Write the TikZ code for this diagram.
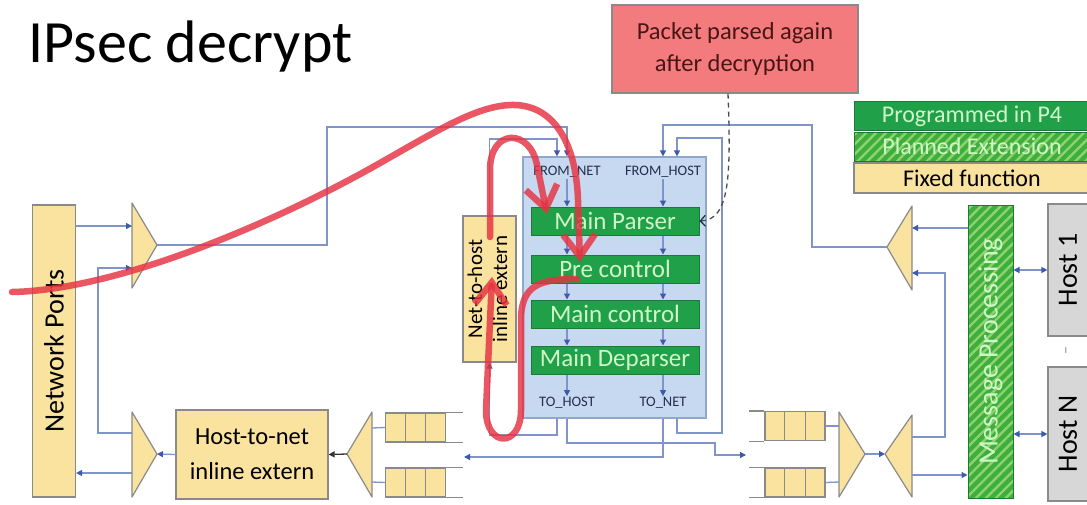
\documentclass[tikz,border=0pt]{standalone}
\usepackage{fontspec}
\setmainfont{Carlito}
\usetikzlibrary{
	arrows.meta,
	positioning,
	calc,
	patterns.meta
}

\definecolor{fixedyel}{HTML}{FAE29F}
\definecolor{boxgray}{HTML}{8A8A8A}
\definecolor{linkblue}{HTML}{7E94CB}
\definecolor{tipblue}{HTML}{3E5BA9}
\definecolor{pipefill}{HTML}{C6D9F0}
\definecolor{pipeedge}{HTML}{8FA8C8}
\definecolor{p4green}{HTML}{20A049}
\definecolor{p4dark}{HTML}{1B7A38}
\definecolor{p4text}{HTML}{CFF7C8}
\definecolor{hatchbase}{HTML}{3DAE3F}
\definecolor{hatchline}{HTML}{8FD46A}
\definecolor{notered}{HTML}{F37B7D}
\definecolor{notetext}{HTML}{4A1515}
\definecolor{hostgray}{HTML}{D7D7D7}
\definecolor{pathred}{HTML}{E63241}
\definecolor{labelnavy}{HTML}{23304D}

\begin{document}
\begin{tikzpicture}[x=1pt, y=-1pt,
  fixed/.style={draw=boxgray, fill=fixedyel, line width=1.2pt, inner sep=0pt, align=center},
  stage/.style={draw=p4dark, fill=p4green, text=p4text, line width=1pt,
    minimum width=168pt, minimum height=28pt, inner sep=0pt, font=\fontsize{25}{27}\selectfont},
  hatch/.style={draw=p4dark, line width=1pt, preaction={fill=hatchbase},
    pattern={Lines[angle=45, distance=7pt, line width=2.4pt]}, pattern color=hatchline,
    text=p4text, inner sep=0pt},
  host/.style={draw=boxgray, fill=hostgray, line width=1.2pt, inner sep=0pt,
    minimum width=40pt, font=\fontsize{28}{32}\selectfont},
  port/.style={text=labelnavy, inner sep=1pt, font=\fontsize{14.5}{16}\selectfont},
  mux/.style={draw=boxgray, fill=fixedyel, line width=1.2pt, line join=round},
  queue/.style={draw=boxgray, fill=fixedyel, line width=1.2pt,
    minimum width=60pt, minimum height=29pt, inner sep=0pt},
  qline/.style={draw=boxgray, line width=1.2pt},
  link/.style={draw=linkblue, line width=1.3pt},
  arr/.style={link, -{Triangle[length=6pt, width=6pt, color=tipblue]}},
  blackarr/.style={draw=black!80, line width=1.3pt, -{Triangle[length=6pt, width=6pt]}},
  hostarr/.style={link, {Triangle[length=6pt, width=6pt, color=tipblue]}-{Triangle[length=6pt, width=6pt, color=tipblue]}},
  note/.style={draw=black!70, line width=1.3pt, dash pattern=on 5pt off 4pt,
    -{Straight Barb[length=5pt, width=11pt, color=labelnavy]}},
  redpath/.style={draw=pathred, draw opacity=0.82, line width=6.5pt, line cap=round,
    line join=round, -{Straight Barb[length=22pt, width=32pt]}}
]
\fill[white] (0,0) rectangle (1087,504);
\useasboundingbox (0,0) rectangle (1087,504);

\node[anchor=base west, font=\fontsize{60}{66}\selectfont] (title) at (25,62) {IPsec decrypt};

% note and legend
\node[draw=boxgray, fill=notered, text=notetext, line width=1.2pt, minimum width=246pt,
  minimum height=88pt, align=center, font=\fontsize{24.5}{32}\selectfont] (notebox) at (735,49)
  {Packet parsed again\\after decryption};
\node[stage, minimum width=236pt, minimum height=29pt, font=\fontsize{24}{28}\selectfont] (lgp4) at (972,116) {Programmed in P4};
\node[hatch, minimum width=236pt, minimum height=29pt, font=\fontsize{24}{28}\selectfont, below=0pt of lgp4] (lgplan) {Planned Extension};
\node[fixed, minimum width=236pt, minimum height=30pt, font=\fontsize{24}{28}\selectfont, below=0pt of lgplan] (lgfix) {Fixed function};

% fixed function blocks
\node[fixed, minimum width=43pt, minimum height=292pt, font=\fontsize{28}{32}\selectfont] (netports) at (54,351) {\rotatebox{90}{Network Ports}};
\node[fixed, minimum width=152pt, minimum height=89pt, font=\fontsize{24.5}{35}\selectfont] (hostToNet) at (252,454.5) {Host-to-net\\inline extern};
\node[fixed, minimum width=53pt, minimum height=146pt, font=\fontsize{21}{25}\selectfont] (netToHost) at (489.5,289)
  {\rotatebox{90}{\begin{tabular}{@{}c@{}}Net-to-host\\inline extern\end{tabular}}};

% P4 pipeline
\node[draw=pipeedge, fill=pipefill, line width=1.2pt, minimum width=183pt, minimum height=261pt, inner sep=0pt] (pipeline) at (614.5,287.5) {};
\node[stage] (parser) at (615,221) {Main Parser};
\node[stage, below=19pt of parser] (precontrol) {Pre control};
\node[stage, below=16pt of precontrol] (maincontrol) {Main control};
\node[stage, below=17pt of maincontrol] (deparser) {Main Deparser};
\node[port] (fromnet) at (567,172) {FROM\_NET};
\node[port] (fromhost) at (663,172) {FROM\_HOST};
\node[port] (tohost) at (567,403) {TO\_HOST};
\node[port] (tonet) at (663,403) {TO\_NET};

% host side
\node[hatch, minimum width=45pt, minimum height=293pt, font=\fontsize{28}{32}\selectfont] (msgproc) at (990.5,351.5) {\rotatebox{90}{Message Processing}};
\node[host, minimum height=132pt] (host1) at (1068,270) {\rotatebox{90}{Host 1}};
\node[host, minimum height=134pt] (hostN) at (1068,434) {\rotatebox{90}{Host N}};
\node[text=boxgray, font=\fontsize{16}{16}\selectfont, inner sep=0pt] (hostdots) at (1068,351) {\rotatebox{90}{--}};

% muxes
\draw[mux] (132,203) -- (157,245) -- (132,288) -- cycle;
\draw[mux] (132,412) -- (157,454) -- (132,497) -- cycle;
\draw[mux] (372,412) -- (347,454) -- (372,497) -- cycle;
\draw[mux] (839,412) -- (865,454) -- (839,497) -- cycle;
\draw[mux] (912,415) -- (885,454) -- (912,497) -- cycle;
\draw[mux] (912,206) -- (887,247) -- (912,290) -- cycle;
\coordinate (mNI1) at (132,226);
\coordinate (mNI2) at (132,268);
\coordinate (mNItip) at (157,245);
\coordinate (mNOtip) at (157,454);
\coordinate (mNO1) at (132,433);
\coordinate (mNO2) at (132,473);
\coordinate (mHQtip) at (347,454);
\coordinate (mHQ1) at (372,428);
\coordinate (mHQ2) at (372,482);
\coordinate (mTMtip) at (865,454);
\coordinate (mTM1) at (839,426);
\coordinate (mTM2) at (839,482);
\coordinate (mHOtip) at (885,454);
\coordinate (mHO1) at (912,437);
\coordinate (mHO2) at (912,475);
\coordinate (mHItip) at (887,247);
\coordinate (mHI1) at (912,228);
\coordinate (mHI2) at (912,273);

% queues
\node[queue] (qL1) at (415.5,427.5) {};
\node[queue] (qL2) at (415.5,482.5) {};
\node[queue] (qR1) at (795,426) {};
\node[queue] (qR2) at (795,482.5) {};
\foreach \q in {qL1,qL2,qR1,qR2}
  \foreach \f in {0.333,0.667}
    \draw[qline] ($(\q.north west)!\f!(\q.north east)$) -- ($(\q.south west)!\f!(\q.south east)$);
\foreach \q in {qL1,qL2} {
  \draw[qline] (\q.north east) -- ++(17,0);
  \draw[qline] (\q.south east) -- ++(17,0);
}
\foreach \q in {qR1,qR2} {
  \draw[qline] (\q.north west) -- ++(-15,0);
  \draw[qline] (\q.south west) -- ++(-15,0);
}

% wiring
\coordinate (cA) at (557,0);
\coordinate (cB) at (567,0);
\coordinate (cC) at (663,0);
\coordinate (cD) at (677,0);
\coordinate (loopL) at (98,268);
\coordinate (netUp) at (327,127);
\coordinate (nthTop) at (557,139);
\coordinate (hostUp) at (812,125);
\coordinate (netLow) at (489.5,435);
\coordinate (tmBend) at (715,443);
\coordinate (qRin) at (746,455);
\coordinate (recBend) at (722,433);
\coordinate (recTop) at (677,138);
\coordinate (qLin) at (464,457);
\coordinate (loopR) at (945,273);

\draw[arr] (netports.east |- mNI1) -- (mNI1);
\draw[arr] (mNO1) -| (loopL) -- (mNI2);
\draw[arr] (mNO2) -- (netports.east |- mNO2);
\draw[arr] (hostToNet.west) -- (mNOtip);
\draw[blackarr] (mHQtip) -- (hostToNet.east);
\draw[link] (mHQ1) -- (qL1.west);
\draw[link] (mHQ2) -- (qL2.west);
\draw[arr] (mNItip) -| (netUp) -| (pipeline.north -| cB);
\draw[arr] (netToHost.north) |- (nthTop) -- (pipeline.north -| cA);
\draw[arr] (mHItip) -| (hostUp) -| (pipeline.north -| cC);
\draw[arr] (pipeline.south -| cD) |- (recBend) |- (recTop) -- (pipeline.north -| cD);
\draw[arr] (pipeline.south -| cA) |- (netLow) -- (netToHost.south);
\draw[arr] (pipeline.south -| cB) |- (tmBend) |- (qRin);
\draw[arr] (pipeline.south -| cC) |- (qLin);
\draw[link] (qR1.east) -- (mTM1);
\draw[link] (qR2.east) -- (mTM2);
\draw[arr] (mTMtip) -- (mHOtip);
\draw[arr] (mHO1) -| (loopR) -- (mHI2);
\draw[arr] (mHO2) -- (msgproc.west |- mHO2);
\draw[arr] (msgproc.west |- mHI1) -- (mHI1);
\draw[hostarr] (msgproc.east |- host1.west) -- (host1.west);
\draw[hostarr] (msgproc.east |- hostN.west) -- (hostN.west);

% inside the pipeline
\draw[arr] (fromnet.south) -- (parser.north -| cB);
\draw[arr] (fromhost.south) -- (parser.north -| cC);
\foreach \a/\b in {parser/precontrol, precontrol/maincontrol, maincontrol/deparser} {
  \draw[arr] (\a.south -| cB) -- (\b.north -| cB);
  \draw[arr] (\a.south -| cC) -- (\b.north -| cC);
}
\draw[arr] (deparser.south -| cB) -- (tohost.north);
\draw[arr] (deparser.south -| cC) -- (tonet.north);

\draw[note] ([xshift=-7pt]notebox.south) .. controls (731,175) and (730,220) .. (parser.east);

% packet path
\coordinate (redIn) at (12,292);
\coordinate (tipPre) at (580,262);
\coordinate (tipParser) at (547,214);
\coordinate (fromPre) at (577,279);
\coordinate (tipNTH) at (492,277);
\coordinate (fromNTH) at (490,237);
\draw[redpath] (redIn) .. controls (120,290) and (280,220) .. (380,163)
  .. controls (440,129) and (480,104) .. (515,105)
  .. controls (552,106) and (576,140) .. (578,200) -- (tipPre);
\draw[redpath] (fromNTH) -- (490,170) .. controls (490,128) and (530,128) .. (537,165) -- (tipParser);
\draw[redpath] (fromPre) .. controls (540,279) and (521,285) .. (521,320) -- (521,410)
  .. controls (521,448) and (486,448) .. (486,410) -- (tipNTH);
\end{tikzpicture}
\end{document}
